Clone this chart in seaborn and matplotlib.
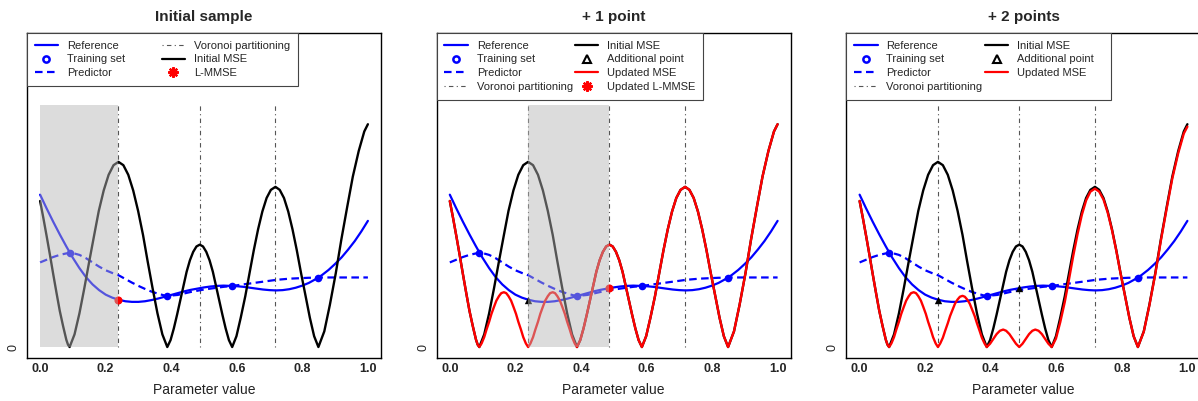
import matplotlib
matplotlib.use("Agg")
import matplotlib.pyplot as plt
from matplotlib.lines import Line2D
from matplotlib.patches import Rectangle
import seaborn as sns

# ---------------- data ----------------
grid_x = [0.00, 0.02, 0.04, 0.06, 0.08, 0.10, 0.12, 0.14, 0.16, 0.18,
          0.20, 0.22, 0.24, 0.26, 0.28, 0.30, 0.32, 0.34, 0.36, 0.38,
          0.40, 0.42, 0.44, 0.46, 0.48, 0.50, 0.52, 0.54, 0.56, 0.58,
          0.60, 0.62, 0.64, 0.66, 0.68, 0.70, 0.72, 0.74, 0.76, 0.78,
          0.80, 0.82, 0.84, 0.86, 0.88, 0.90, 0.92, 0.94, 0.96, 0.98, 1.00]

reference_y = [50.6, 46.0, 41.6, 37.4, 33.4, 29.6, 26.2, 23.2, 20.8, 18.9,
               17.4, 16.4, 15.7, 15.2, 15.0, 15.0, 15.2, 15.6, 16.1, 16.7,
               17.3, 17.9, 18.5, 19.0, 19.4, 19.8, 20.1, 20.3, 20.4, 20.3,
               20.2, 20.0, 19.7, 19.4, 19.1, 18.9, 18.8, 18.9, 19.2, 19.7,
               20.4, 21.3, 22.5, 23.9, 25.6, 27.6, 29.8, 32.4, 35.2, 38.4, 41.9]

predictor_y = [28.1, 29.0, 29.9, 30.6, 31.1, 31.2, 30.6, 29.5, 28.1, 26.7,
               25.5, 24.6, 23.8, 22.6, 21.4, 20.3, 19.3, 18.4, 17.7, 17.1,
               17.1, 17.3, 17.8, 18.3, 18.7, 19.1, 19.4, 19.7, 20.0, 20.2,
               20.5, 20.8, 21.1, 21.4, 21.7, 22.0, 22.3, 22.5, 22.7, 22.8,
               22.9, 23.0, 23.0, 23.1, 23.1, 23.1, 23.1, 23.1, 23.1, 23.1, 23.1]

mse0_x = [0.0, 0.01, 0.02, 0.03, 0.04, 0.05, 0.06, 0.07, 0.08, 0.085,
          0.09, 0.105, 0.12, 0.135, 0.15, 0.165, 0.179, 0.194, 0.209, 0.224,
          0.239, 0.254, 0.269, 0.284, 0.299, 0.314, 0.328, 0.343, 0.358, 0.373,
          0.388, 0.398, 0.408, 0.418, 0.428, 0.438, 0.447, 0.457, 0.467, 0.477,
          0.487, 0.497, 0.507, 0.517, 0.527, 0.536, 0.546, 0.556, 0.566, 0.576,
          0.586, 0.599, 0.612, 0.626, 0.639, 0.652, 0.665, 0.678, 0.691, 0.704,
          0.718, 0.731, 0.744, 0.757, 0.770, 0.783, 0.796, 0.810, 0.823, 0.836,
          0.849, 0.867, 0.884, 0.902, 0.919, 0.937, 0.954, 0.972, 0.989, 1.0]
mse0_y = [48.5, 42.8, 36.8, 30.6, 24.2, 18.0, 12.0, 7.0, 2.4, 0.8,
          0.0, 4.2, 11.2, 19.6, 28.5, 37.2, 45.2, 52.0, 57.2, 60.4,
          61.5, 60.4, 57.2, 52.0, 45.2, 37.2, 28.5, 19.6, 11.2, 4.2,
          0.0, 2.3, 6.2, 10.8, 15.7, 20.6, 25.0, 28.8, 31.6, 33.4,
          34.0, 33.4, 31.6, 28.8, 25.0, 20.6, 15.7, 10.8, 6.2, 2.3,
          0.0, 3.6, 9.7, 16.9, 24.6, 32.2, 39.1, 45.0, 49.5, 52.2,
          53.2, 52.2, 49.5, 45.0, 39.1, 32.2, 24.6, 16.9, 9.7, 3.6,
          0.0, 5.2, 14.0, 24.5, 35.7, 46.6, 56.6, 65.1, 71.6, 74.0]

mse1_x = [0.0, 0.01, 0.02, 0.03, 0.04, 0.05, 0.06, 0.07, 0.08, 0.085,
          0.09, 0.097, 0.105, 0.112, 0.12, 0.127, 0.135, 0.142, 0.15, 0.157,
          0.165, 0.172, 0.179, 0.187, 0.194, 0.202, 0.209, 0.217, 0.224, 0.232,
          0.239, 0.246, 0.254, 0.261, 0.269, 0.276, 0.284, 0.291, 0.299, 0.306,
          0.314, 0.321, 0.328, 0.336, 0.343, 0.351, 0.358, 0.366, 0.373, 0.381,
          0.388, 0.398, 0.408, 0.418, 0.428, 0.438, 0.447, 0.457, 0.467, 0.477,
          0.487, 0.497, 0.507, 0.517, 0.527, 0.536, 0.546, 0.556, 0.566, 0.576,
          0.586, 0.599, 0.612, 0.626, 0.639, 0.652, 0.665, 0.678, 0.691, 0.704,
          0.718, 0.731, 0.744, 0.757, 0.770, 0.783, 0.796, 0.810, 0.823, 0.836,
          0.849, 0.867, 0.884, 0.902, 0.919, 0.937, 0.954, 0.972, 0.989, 1.0]
mse1_y = [48.5, 42.8, 36.8, 30.6, 24.2, 18.0, 12.0, 7.0, 2.4, 0.8,
          0.0, 1.2, 3.3, 5.8, 8.4, 11.0, 13.4, 15.4, 16.9, 17.9,
          18.2, 17.9, 16.9, 15.4, 13.4, 11.0, 8.4, 5.8, 3.3, 1.2,
          0.0, 1.2, 3.3, 5.8, 8.4, 11.0, 13.4, 15.4, 16.9, 17.9,
          18.2, 17.9, 16.9, 15.4, 13.4, 11.0, 8.4, 5.8, 3.3, 1.2,
          0.0, 2.3, 6.2, 10.8, 15.7, 20.6, 25.0, 28.8, 31.6, 33.4,
          34.0, 33.4, 31.6, 28.8, 25.0, 20.6, 15.7, 10.8, 6.2, 2.3,
          0.0, 3.6, 9.7, 16.9, 24.6, 32.2, 39.1, 45.0, 49.5, 52.2,
          53.2, 52.2, 49.5, 45.0, 39.1, 32.2, 24.6, 16.9, 9.7, 3.6,
          0.0, 5.2, 14.0, 24.5, 35.7, 46.6, 56.6, 65.1, 71.6, 74.0]

mse2_x = [0.0, 0.01, 0.02, 0.03, 0.04, 0.05, 0.06, 0.07, 0.08, 0.085,
          0.09, 0.097, 0.105, 0.112, 0.12, 0.127, 0.135, 0.142, 0.15, 0.157,
          0.165, 0.172, 0.179, 0.187, 0.194, 0.202, 0.209, 0.217, 0.224, 0.232,
          0.239, 0.246, 0.254, 0.261, 0.269, 0.276, 0.284, 0.291, 0.299, 0.306,
          0.314, 0.321, 0.328, 0.336, 0.343, 0.351, 0.358, 0.366, 0.373, 0.381,
          0.388, 0.398, 0.408, 0.418, 0.428, 0.438, 0.447, 0.457, 0.467, 0.477,
          0.487, 0.497, 0.507, 0.517, 0.527, 0.536, 0.546, 0.556, 0.566, 0.576,
          0.586, 0.599, 0.612, 0.626, 0.639, 0.652, 0.665, 0.678, 0.691, 0.704,
          0.718, 0.731, 0.744, 0.757, 0.770, 0.783, 0.796, 0.810, 0.823, 0.836,
          0.849, 0.867, 0.884, 0.902, 0.919, 0.937, 0.954, 0.972, 0.989, 1.0]
mse2_y = [48.5, 42.8, 36.8, 30.6, 24.2, 18.0, 12.0, 7.0, 2.4, 0.8,
          0.0, 1.2, 3.3, 5.8, 8.4, 11.0, 13.4, 15.4, 16.9, 17.9,
          18.2, 17.9, 16.9, 15.4, 13.4, 11.0, 8.4, 5.8, 3.3, 1.2,
          0.0, 1.2, 3.1, 5.4, 7.9, 10.3, 12.5, 14.4, 15.8, 16.7,
          17.0, 16.7, 15.8, 14.4, 12.5, 10.3, 7.9, 5.4, 3.1, 1.2,
          0.0, 1.1, 2.7, 4.3, 5.4, 5.8, 5.4, 4.3, 2.7, 1.1,
          0.0, 1.1, 2.7, 4.3, 5.4, 5.8, 5.4, 4.3, 2.7, 1.1,
          0.0, 2.8, 8.2, 15.0, 22.6, 30.4, 37.6, 43.9, 48.7, 51.6,
          52.6, 51.6, 49.0, 44.6, 38.8, 32.0, 24.5, 16.8, 9.7, 3.6,
          0.0, 5.1, 13.8, 24.2, 35.3, 46.1, 56.0, 64.4, 70.9, 73.2]

train_x = [0.09, 0.388, 0.586, 0.849]
train_y = [31.3, 17.0, 20.3, 23.0]
added_x = [0.239, 0.487]
added_y = [15.7, 19.5]
voronoi_x = [0.239, 0.487, 0.7175]
voronoi_top = 80.4

panel_titles = ["Initial sample", "+ 1 point", "+ 2 points"]
xtick_vals = [0.0, 0.2, 0.4, 0.6, 0.8, 1.0]
xtick_labels = ["0.0", "0.2", "0.4", "0.6", "0.8", "1.0"]

# ---------------- styling ----------------
sns.set_theme(style="white")
plt.rcParams["font.family"] = ["Liberation Sans", "DejaVu Sans"]

BLUE = (0, 0, 1)
RED = (1, 0, 0)
LW = 1.6
DASH = (0, (3.4, 2.0))
VOR_STYLE = (0, (1, 3, 4, 3))
VOR_COL = "#555555"

fig = plt.figure(figsize=(11.98, 4.01), dpi=100)
lefts = [27 / 1198, 436.7 / 1198, 846.5 / 1198]
axes = [fig.add_axes([l, 0.1072, 354 / 1198, 0.8105]) for l in lefts]

h_ref = Line2D([], [], color=BLUE, lw=LW)
h_train = Line2D([], [], ls="none", marker="o", mfc="none", mec=BLUE, mew=1.8, ms=4.5)
h_pred = Line2D([], [], color=BLUE, lw=LW, ls=DASH)
h_vor = Line2D([], [], color=VOR_COL, lw=0.8, ls=VOR_STYLE)
h_init = Line2D([], [], color="black", lw=LW)
h_add = Line2D([], [], ls="none", marker="^", mfc="none", mec="black", mew=1.5, ms=6)
h_upd = Line2D([], [], color=RED, lw=LW)
h_lm = Line2D([], [], ls="none", marker=(8, 2, 0), color=RED, mec=RED, mew=1.6, ms=7.5)

configs = [
    dict(mse=None, rect=(0.0, 0.239), lm=(added_x[0], added_y[0]), n_added=0,
         handles=[h_ref, h_train, h_pred, h_vor, h_init, h_lm],
         labels=["Reference", "Training set", "Predictor",
                 "Voronoi partitioning", "Initial MSE", "L-MMSE"], cs=3.3),
    dict(mse=(mse1_x, mse1_y), rect=(0.239, 0.487), lm=(added_x[1], added_y[1]), n_added=1,
         handles=[h_ref, h_train, h_pred, h_vor, h_init, h_add, h_upd, h_lm],
         labels=["Reference", "Training set", "Predictor", "Voronoi partitioning",
                 "Initial MSE", "Additional point", "Updated MSE", "Updated L-MMSE"], cs=0.2),
    dict(mse=(mse2_x, mse2_y), rect=None, lm=None, n_added=2,
         handles=[h_ref, h_train, h_pred, h_vor, h_init, h_add, h_upd],
         labels=["Reference", "Training set", "Predictor", "Voronoi partitioning",
                 "Initial MSE", "Additional point   ", "Updated MSE"], cs=0.2),
]

for ax, title, cfg in zip(axes, panel_titles, configs):
    # Voronoi partition lines
    ax.vlines(voronoi_x, 0, voronoi_top, colors=VOR_COL, linestyles=[VOR_STYLE], lw=0.8, zorder=2)

    # reference and predictor
    sns.lineplot(x=grid_x, y=reference_y, ax=ax, color=BLUE, lw=LW, sort=False,
                 estimator=None, zorder=3)
    sns.lineplot(x=grid_x, y=predictor_y, ax=ax, color=BLUE, lw=LW, sort=False,
                 estimator=None, zorder=3)
    ax.lines[-1].set_linestyle(DASH)

    # initial MSE
    sns.lineplot(x=mse0_x, y=mse0_y, ax=ax, color="black", lw=LW + 0.1, sort=False,
                 estimator=None, zorder=3)
    # updated MSE
    if cfg["mse"] is not None:
        sns.lineplot(x=cfg["mse"][0], y=cfg["mse"][1], ax=ax, color=RED, lw=LW + 0.1,
                     sort=False, estimator=None, zorder=3.5)

    # training points
    sns.scatterplot(x=train_x, y=train_y, ax=ax, color=BLUE, s=30, linewidth=0, zorder=4)
    # additional points
    if cfg["n_added"] > 0:
        sns.scatterplot(x=added_x[:cfg["n_added"]], y=added_y[:cfg["n_added"]], ax=ax,
                        color="black", marker="^", s=28, linewidth=0, zorder=4)
    # L-MMSE point
    if cfg["lm"] is not None:
        sns.scatterplot(x=[cfg["lm"][0]], y=[cfg["lm"][1]], ax=ax, color=RED, s=34,
                        linewidth=0, zorder=4.2)

    # highlighted Voronoi cell
    if cfg["rect"] is not None:
        x0, x1 = cfg["rect"]
        ax.add_patch(Rectangle((x0, 0), x1 - x0, voronoi_top, facecolor=(0.714, 0.714, 0.714),
                               alpha=0.47, lw=0, zorder=5))

    ax.set_xlim(-0.04, 1.04)
    ax.set_ylim(-3.65, 104.3)
    ax.set_xticks(xtick_vals)
    ax.set_xticklabels(xtick_labels, fontsize=9, fontweight="bold")
    ax.set_yticks([0])
    ax.set_yticklabels(["0"], fontsize=9, rotation=90, va="center")
    ax.tick_params(axis="x", length=0, pad=3.5)
    ax.tick_params(axis="y", length=0, pad=5.4)
    ax.set_xlabel("Parameter value", fontsize=10, labelpad=5.5, color="#222222")
    ax.set_ylabel("")
    ax.set_title(title, fontsize=11, fontweight="bold", pad=8.5)
    for sp in ax.spines.values():
        sp.set_color("black")
        sp.set_linewidth(1.0)
        sp.set_visible(True)

    leg = ax.legend(handles=cfg["handles"], labels=cfg["labels"], loc="upper left",
                    bbox_to_anchor=(0, 1), borderaxespad=0, ncol=2, fontsize=8,
                    frameon=True, fancybox=False, edgecolor="#444444", framealpha=1,
                    handlelength=2.1, handletextpad=0.8, columnspacing=cfg["cs"],
                    labelspacing=0.33, borderpad=0.7)
    leg.get_frame().set_linewidth(0.8)
    leg.set_zorder(10)

fig.savefig("out.png", dpi=100)
